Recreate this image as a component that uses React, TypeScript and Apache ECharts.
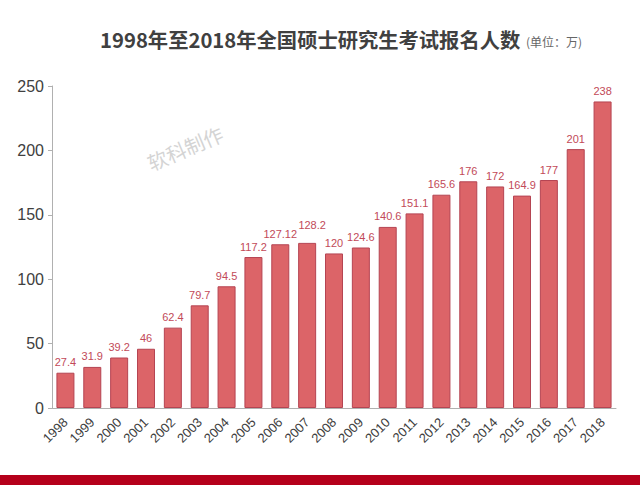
import React, { useEffect, useRef } from "react";
import * as echarts from "echarts";

const years = ["1998","1999","2000","2001","2002","2003","2004","2005","2006","2007","2008","2009","2010","2011","2012","2013","2014","2015","2016","2017","2018"];
const applicants = [27.4,31.9,39.2,46,62.4,79.7,94.5,117.2,127.12,128.2,120,124.6,140.6,151.1,165.6,176,172,164.9,177,201,238];
const labels = ["27.4","31.9","39.2","46","62.4","79.7","94.5","117.2","127.12","128.2","120","124.6","140.6","151.1","165.6","176","172","164.9","177","201","238"];

export default function App() {
  const ref = useRef<HTMLDivElement>(null);
  useEffect(() => {
    const chart = echarts.init(ref.current!, null, { renderer: "svg" });
    const shifted = labels.indexOf("128.2");
    chart.setOption({
      animation: false,
      backgroundColor: "#ffffff",
      grid: { left: 52, right: 24, top: 86, bottom: 77 },
      graphic: [
        { type: "text", left: 100, top: 29, style: { text: "1998年至2018年全国硕士研究生考试报名人数", font: "bold 20.3px 'Noto Sans CJK SC', 'Noto Sans', sans-serif", fill: "#404040" } },
        { type: "text", left: 526, top: 35, style: { text: "(单位：万)", font: "12px 'Noto Sans CJK SC', sans-serif", fill: "#666666" } },
        { type: "text", x: 185, y: 148, rotation: 0.4, style: { text: "软科制作", font: "20px 'Noto Sans CJK SC', sans-serif", fill: "#d4d4d4", align: "center", verticalAlign: "middle" } },
        { type: "rect", shape: { x: 0, y: 475, width: 640, height: 10 }, style: { fill: "#b5001b" } },
      ],
      xAxis: {
        type: "category",
        data: years,
        axisLine: { lineStyle: { color: "#b0b0b0" } },
        axisTick: { show: false },
        axisLabel: { rotate: 45, fontSize: 13, color: "#404040", fontFamily: "Liberation Sans, Arial, sans-serif", margin: 12 },
      },
      yAxis: {
        type: "value",
        min: 0,
        max: 250,
        interval: 50,
        splitLine: { show: false },
        axisLine: { show: true, lineStyle: { color: "#b0b0b0" } },
        axisTick: { show: true, length: 4, lineStyle: { color: "#b0b0b0" } },
        axisLabel: { fontSize: 16, color: "#404040", fontFamily: "Liberation Sans, Arial, sans-serif", margin: 8 },
      },
      series: [
        {
          type: "bar",
          data: applicants,
          barWidth: 18,
          itemStyle: { color: "#dc6468", borderColor: "#b54452", borderWidth: 1 },
          label: {
            show: true,
            position: "top",
            distance: 5,
            fontSize: 11,
            color: "#c24a58",
            fontFamily: "Liberation Sans, Arial, sans-serif",
            formatter: (p: any) => labels[p.dataIndex],
          },
          labelLayout: (p: any) => (p.dataIndex === shifted ? { dx: 5, dy: -7 } : {}),
        },
      ],
    });
    return () => chart.dispose();
  }, []);
  return <div ref={ref} style={{ width: 640, height: 485, position: "fixed", left: 0, top: 0 }} />;
}
